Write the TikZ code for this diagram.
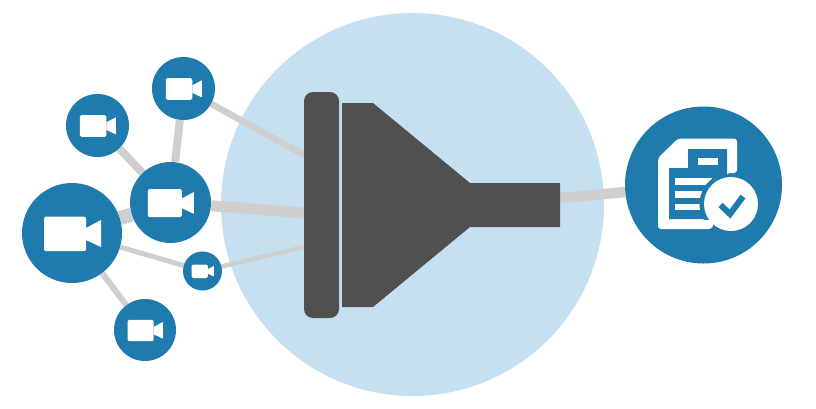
\documentclass[tikz,border=0pt]{standalone}
\usetikzlibrary{backgrounds}
\definecolor{camblue}{HTML}{1F7AAE}
\definecolor{hubblue}{HTML}{C5E1F1}
\definecolor{funneldark}{HTML}{505050}
\definecolor{linkgrey}{HTML}{CFCFCF}
\tikzset{
  camnode/.style={circle,fill=camblue,inner sep=0pt,minimum size=#1},
  link/.style={draw=linkgrey,line width=#1},
  camicon/.pic={
    \fill[white,rounded corners=1.5pt] (-28,-16.5) rectangle (14,18);
    \fill[white] (14,-5) -- (29,-13) -- (29,14) -- (14,7) -- cycle;
  }
}
\begin{document}
\begin{tikzpicture}[x=1pt,y=-1pt]
  \useasboundingbox (0,0) rectangle (816,408);
  \node[fill=funneldark,rounded corners=9pt,inner sep=0pt,minimum width=35pt,minimum height=226pt] (plate) at (321.5,205) {};
  \fill[funneldark] (342,103) -- (373,103) -- (470,183) -- (560,183) -- (560,227) -- (470,227) -- (373,307) -- (342,307) -- cycle;
  \coordinate (plateTop) at (304,155);
  \coordinate (plateMid) at (304,213);
  \coordinate (plateLow) at (304,247);
  \coordinate (stemEnd) at (560,198);
  \node[camnode=100pt] (camBig) at (72,233) {};
  \node[camnode=81pt] (camMid) at (170.5,202.5) {};
  \node[camnode=63pt] (camTop) at (183.5,88.5) {};
  \node[camnode=63pt] (camLeft) at (97.5,125.5) {};
  \node[camnode=39pt] (camSmall) at (202.5,271) {};
  \node[camnode=62pt] (camLow) at (145,330) {};
  \pic[scale=1] at (camBig) {camicon};
  \pic[scale=.81] at (camMid) {camicon};
  \pic[scale=.63] at (camTop) {camicon};
  \pic[scale=.63] at (camLeft) {camicon};
  \pic[scale=.39] at (camSmall) {camicon};
  \pic[scale=.62] at (camLow) {camicon};
  \node[camnode=157pt] (report) at (703.5,185) {};
  \fill[white,rounded corners=3pt] (658,158) -- (678,138.5) -- (737,138.5) -- (737,173) -- (727,173) -- (712,229) -- (658,229) -- cycle;
  \fill[camblue] (669,168) -- (688,168) -- (688,149) -- (727,149) -- (727,185) -- (712,219) -- (669,219) -- cycle;
  \fill[white] (698,158) rectangle (718,165);
  \fill[white] (675,178) rectangle (712,184.5);
  \fill[white] (675,191) rectangle (704,197.5);
  \fill[white] (675,204) rectangle (700,210);
  \begin{scope}
    \clip (669,149) rectangle (727,219);
    \fill[camblue] (731,204) circle (31.5);
  \end{scope}
  \node[circle,fill=white,inner sep=0pt,minimum size=54pt] (tick) at (731,204) {};
  \draw[camblue,line width=6pt] (720.5,205) -- (730,214) -- (743,196.5);
  \begin{scope}[on background layer]
    \node[circle,fill=hubblue,inner sep=0pt,minimum size=383pt] (hub) at (412.5,204.5) {};
    \draw[link=6.5pt] (camTop) -- (plateTop);
    \draw[link=11pt] (camMid) -- (plateMid);
    \draw[link=4.5pt] (camSmall) -- (plateLow);
    \draw[link=8pt] (camTop) -- (camMid);
    \draw[link=8pt] (camLeft) -- (camMid);
    \draw[link=14pt] (camBig) -- (camMid);
    \draw[link=5pt] (camBig) -- (camSmall);
    \draw[link=6pt] (camBig) -- (camLow);
    \draw[link=10.5pt] (stemEnd) -- (report);
  \end{scope}
\end{tikzpicture}
\end{document}
